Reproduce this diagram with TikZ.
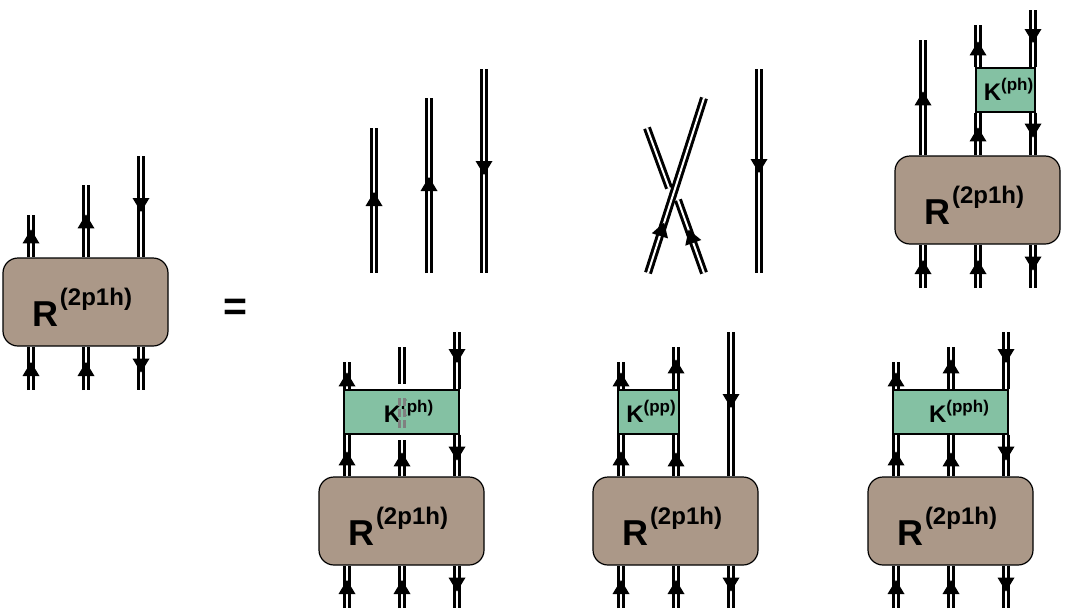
\documentclass[tikz,border=0pt]{standalone}
\usepackage{fontspec}
\setmainfont{Liberation Sans}
\usetikzlibrary{arrows.meta,decorations.markings}

\definecolor{rbrown}{HTML}{AB9888}
\definecolor{kgreen}{HTML}{84C1A3}

\newcommand{\rtext}{\fontsize{36}{36}\selectfont\bfseries R\hspace{2pt}\raisebox{21pt}{\fontsize{24}{24}\selectfont\bfseries (2p1h)}\hspace*{7pt}}
\newcommand{\ktext}[2]{\hspace*{#2}\fontsize{24}{24}\selectfont\bfseries K\raisebox{10pt}{\fontsize{17}{17}\selectfont (#1)}}

\tikzset{
    rbox/.style={draw, fill=rbrown, rounded corners=15pt, minimum width=165pt, minimum height=88pt, inner sep=0pt, text height=48pt, text depth=0pt, line width=1.2pt},
    kbox/.style={draw, fill=kgreen, minimum height=44pt, inner sep=0pt, text height=20pt, text depth=0pt, line width=1.2pt},
    dline/.style={draw, line width=3pt, double=white, double distance=2pt},
    fline/.style={dline, postaction={decorate, decoration={markings, mark=at position #1pt with {\arrow[line width=0pt]{Triangle[width=17pt,length=14pt]}}}}},
    eqsign/.style={inner sep=0pt, font=\fontsize{41}{41}\selectfont\bfseries}
}

\begin{document}
\begin{tikzpicture}[x=1pt, y=-1pt]
    \useasboundingbox (0,0) rectangle (1066,608);

    % left side
    \node[rbox] (r1) at (85.5,302) {\rtext};
    \coordinate (a1) at (31,215);
    \coordinate (a2) at (86,185);
    \coordinate (a3) at (141,156);
    \coordinate (b1) at (31,390);
    \coordinate (b2) at (86,390);
    \coordinate (b3) at (141,390);
    \draw[fline=28] (a1 |- r1.north) -- (a1);
    \draw[fline=43] (a2 |- r1.north) -- (a2);
    \draw[fline=56] (a3) -- (a3 |- r1.north);
    \draw[fline=28] (b1) -- (b1 |- r1.south);
    \draw[fline=28] (b2) -- (b2 |- r1.south);
    \draw[fline=26] (b3 |- r1.south) -- (b3);

    \node[eqsign] (eq) at (235.5,310) {=};

    % three free lines
    \coordinate (c1) at (374,128);
    \coordinate (c2) at (429,98);
    \coordinate (c3) at (484,69);
    \coordinate (d1) at (374,273);
    \coordinate (d2) at (429,273);
    \coordinate (d3) at (484,273);
    \draw[fline=81] (d1) -- (c1);
    \draw[fline=96] (d2) -- (c2);
    \draw[fline=106] (c3) -- (d3);

    % crossed lines
    \coordinate (e1) at (648,273);
    \coordinate (e2) at (704,98);
    \coordinate (e3) at (704,273);
    \coordinate (e4) at (678,200);
    \coordinate (e5) at (669,188);
    \coordinate (e6) at (647,128);
    \coordinate (e7) at (759,69);
    \coordinate (e8) at (759,273);
    \draw[fline=53] (e1) -- (e2);
    \draw[fline=46] (e3) -- (e4);
    \draw[dline] (e5) -- (e6);
    \draw[fline=104] (e7) -- (e8);

    % top right
    \node[rbox] (r2) at (977.5,200) {\rtext};
    \node[kbox, minimum width=59pt] (k2) at (1005.5,90) {\ktext{ph}{6pt}};
    \coordinate (f1) at (923,40);
    \coordinate (f2) at (978,25);
    \coordinate (f3) at (1033,10);
    \coordinate (g1) at (923,288);
    \coordinate (g2) at (978,288);
    \coordinate (g3) at (1033,288);
    \draw[fline=64] (f1 |- r2.north) -- (f1);
    \draw[fline=28] (f2 |- r2.north) -- (f2 |- k2.south);
    \draw[fline=26] (f2 |- k2.north) -- (f2);
    \draw[fline=33] (f3) -- (f3 |- k2.north);
    \draw[fline=25] (f3 |- k2.south) -- (f3 |- r2.north);
    \draw[fline=28] (g1) -- (g1 |- r2.south);
    \draw[fline=28] (g2) -- (g2 |- r2.south);
    \draw[fline=26] (g3 |- r2.south) -- (g3);

    % bottom, first
    \node[rbox] (r3) at (401.5,521) {\rtext};
    \node[kbox, minimum width=115pt] (k3) at (401.5,412) {\ktext{ph}{14pt}};
    \coordinate (h1) at (347,362);
    \coordinate (h2) at (402,347);
    \coordinate (h3) at (457,332);
    \coordinate (h4) at (402,384);
    \coordinate (h5) at (402,440);
    \coordinate (h6) at (402,398);
    \coordinate (h7) at (402,428);
    \coordinate (i1) at (347,608);
    \coordinate (i2) at (402,608);
    \coordinate (i3) at (457,608);
    \draw[fline=17] (h1 |- k3.north) -- (h1);
    \draw[fline=25] (h1 |- r3.north) -- (h1 |- k3.south);
    \draw[dline] (h2) -- (h4);
    \draw[fline=24] (h2 |- r3.north) -- (h5);
    \draw[dline, draw=gray, double=kgreen, dash pattern=on 8pt off 3pt] (h6) -- (h7);
    \draw[fline=31] (h3) -- (h3 |- k3.north);
    \draw[fline=26] (h3 |- k3.south) -- (h3 |- r3.north);
    \draw[fline=28] (i1) -- (i1 |- r3.south);
    \draw[fline=28] (i2) -- (i2 |- r3.south);
    \draw[fline=26] (i3 |- r3.south) -- (i3);

    % bottom, second
    \node[rbox] (r4) at (675.5,521) {\rtext};
    \node[kbox, minimum width=61pt] (k4) at (648.5,412) {\ktext{pp}{5pt}};
    \coordinate (j1) at (621,362);
    \coordinate (j2) at (676,347);
    \coordinate (j3) at (731,332);
    \coordinate (l1) at (621,608);
    \coordinate (l2) at (676,608);
    \coordinate (l3) at (731,608);
    \draw[fline=17] (j1 |- k4.north) -- (j1);
    \draw[fline=25] (j1 |- r4.north) -- (j1 |- k4.south);
    \draw[fline=30] (j2 |- k4.north) -- (j2);
    \draw[fline=24] (j2 |- r4.north) -- (j2 |- k4.south);
    \draw[fline=76] (j3) -- (j3 |- r4.north);
    \draw[fline=28] (l1) -- (l1 |- r4.south);
    \draw[fline=28] (l2) -- (l2 |- r4.south);
    \draw[fline=26] (l3 |- r4.south) -- (l3);

    % bottom, third
    \node[rbox] (r5) at (950.5,521) {\rtext};
    \node[kbox, minimum width=115pt] (k5) at (950.5,412) {\ktext{pph}{17pt}};
    \coordinate (m1) at (896,362);
    \coordinate (m2) at (951,347);
    \coordinate (m3) at (1006,332);
    \coordinate (n1) at (896,608);
    \coordinate (n2) at (951,608);
    \coordinate (n3) at (1006,608);
    \draw[fline=17] (m1 |- k5.north) -- (m1);
    \draw[fline=25] (m1 |- r5.north) -- (m1 |- k5.south);
    \draw[fline=30] (m2 |- k5.north) -- (m2);
    \draw[fline=24] (m2 |- r5.north) -- (m2 |- k5.south);
    \draw[fline=31] (m3) -- (m3 |- k5.north);
    \draw[fline=26] (m3 |- k5.south) -- (m3 |- r5.north);
    \draw[fline=28] (n1) -- (n1 |- r5.south);
    \draw[fline=28] (n2) -- (n2 |- r5.south);
    \draw[fline=26] (n3 |- r5.south) -- (n3);
\end{tikzpicture}
\end{document}
